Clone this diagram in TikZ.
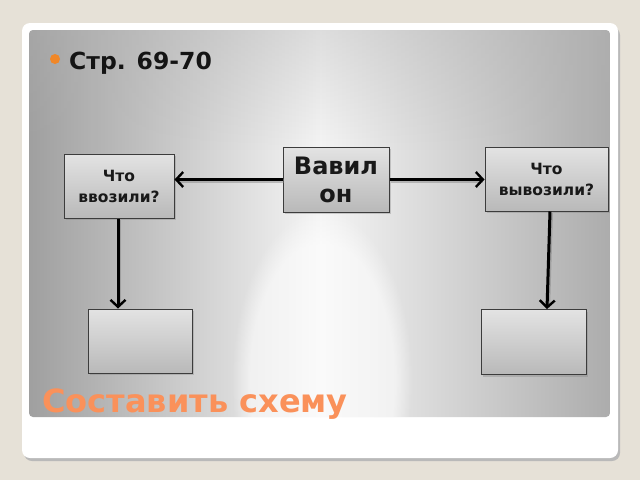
\documentclass[tikz,border=0pt]{standalone}
\usepackage{fontspec}
\setmainfont{DejaVu Sans}
\usetikzlibrary{arrows.meta,shadows,fadings}
\definecolor{bgout}{RGB}{230,225,215}
\definecolor{bullet}{RGB}{240,135,40}
\definecolor{orangetxt}{RGB}{250,145,90}
\definecolor{boxedge}{RGB}{60,60,60}
\tikzset{
  schemebox/.style={draw=boxedge, line width=1pt, top color=gray!22, bottom color=gray!55,
    drop shadow={shadow xshift=1.5pt, shadow yshift=-2pt, opacity=0.35},
    align=center, inner sep=2pt, font=\bfseries\fontsize{15.5}{21}\selectfont, text=black!90},
  arr/.style={line width=3pt, black, -{Straight Barb[length=7pt,width=15pt,line width=2.4pt]}},
  arrshadow/.style={line width=4pt, gray, opacity=0.45}
}
\begin{document}
\begin{tikzpicture}[x=1pt,y=-1pt]
\useasboundingbox (0,0) rectangle (640,480);
\fill[bgout] (0,0) rectangle (640,480);
% card
\fill[gray!55, rounded corners=8pt] (24,27) rectangle (620,461);
\fill[white, rounded corners=8pt] (22,23) rectangle (618,458);
% panel
\begin{scope}
\clip[rounded corners=4pt] (29,30) rectangle (610,417);
\shade[left color=gray!75, right color=gray!8] (29,30) rectangle (320,417);
\shade[left color=gray!8, right color=gray!65] (320,30) rectangle (610,417);
\fill[gray!60, opacity=0.35, path fading=south] (29,30) rectangle (610,150);
\fill[white, opacity=0.55, path fading=circle with fuzzy edge 20 percent] (322,380) ellipse (90 and 170);
\end{scope}
% title
\fill[bullet] (55,59) circle (5);
\node[anchor=base west, inner sep=0, font=\bfseries\fontsize{23.5}{28}\selectfont, text=black!92] (title) at (69,69) {Стр. 69-70};
% boxes
\node[schemebox, minimum width=110, minimum height=64] (vvoz) at (119,186) {Что\\ввозили?};
\node[schemebox, minimum width=106, minimum height=65, font=\bfseries\fontsize{24}{28}\selectfont, inner sep=0pt] (vav) at (336,179.5) {Вавил\\он};
\node[schemebox, minimum width=123, minimum height=64] (vyv) at (546.5,179) {Что\\вывозили?};
\node[schemebox, minimum width=104, minimum height=64] (bl) at (140,341) {};
\node[schemebox, minimum width=105, minimum height=65] (br) at (533.5,342) {};
% arrows
\coordinate (a1s) at (vav.west);
\coordinate (a1e) at (vvoz.east |- vav.west);
\coordinate (a2s) at (vav.east);
\coordinate (a2e) at (vyv.west |- vav.east);
\coordinate (a3s) at ([xshift=-1]vvoz.south);
\coordinate (a3e) at (bl.north -| a3s);
\coordinate (a4s) at ([xshift=3.5]vyv.south);
\coordinate (a4e) at ([xshift=13.5]br.north);
\foreach \s/\e in {a1s/a1e,a2s/a2e,a3s/a3e,a4s/a4e}{
  \draw[arrshadow, shorten >=3pt] ([xshift=1pt,yshift=-1.5pt]\s) -- ([xshift=1pt,yshift=-1.5pt]\e);
  \draw[arr] (\s) -- (\e);
}
% subtitle
\node[anchor=base west, inner sep=0, font=\bfseries\fontsize{32}{38}\selectfont, text=orangetxt] (sub) at (42,412) {Составить схему};
\end{tikzpicture}
\end{document}
